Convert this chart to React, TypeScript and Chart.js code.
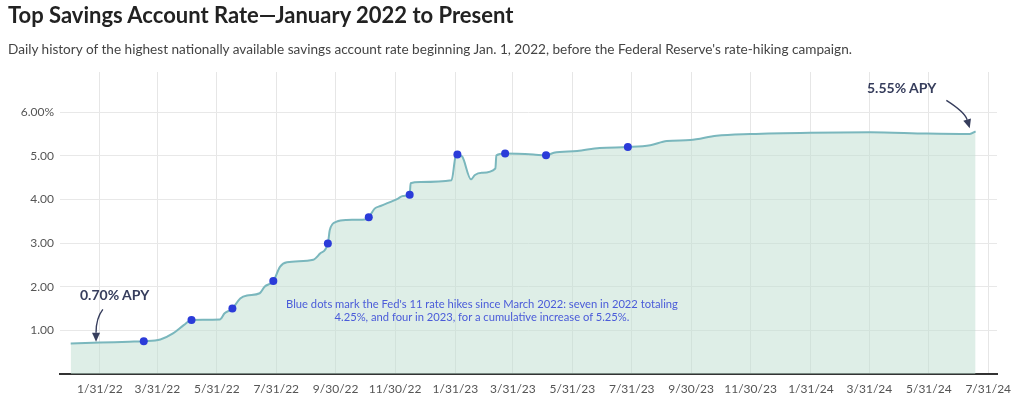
import React, { useEffect, useRef } from "react";
import { Chart, registerables } from "chart.js";

Chart.register(...registerables);

// ---- Data ----
const rateDates = [
  "2022-01-01", "2022-01-31", "2022-03-02", "2022-03-17", "2022-04-03", "2022-04-16",
  "2022-04-27", "2022-05-05", "2022-06-03", "2022-06-08", "2022-06-16", "2022-06-24",
  "2022-07-01", "2022-07-14", "2022-07-19", "2022-07-28", "2022-08-04", "2022-08-11",
  "2022-09-07", "2022-09-14", "2022-09-22", "2022-09-24", "2022-10-01", "2022-10-11",
  "2022-10-30", "2022-11-03", "2022-11-09", "2022-11-15", "2022-12-03", "2022-12-08",
  "2022-12-15", "2022-12-16", "2022-12-26", "2023-01-27", "2023-01-31", "2023-02-02",
  "2023-02-07", "2023-02-16", "2023-02-20", "2023-02-27", "2023-03-13", "2023-03-14",
  "2023-03-23", "2023-04-21", "2023-05-04", "2023-05-12", "2023-06-05", "2023-06-28",
  "2023-07-27", "2023-08-19", "2023-09-05", "2023-09-29", "2023-10-26", "2023-11-30",
  "2024-01-30", "2024-04-01", "2024-05-29", "2024-07-12", "2024-07-18",
];
const rateValues = [
  0.70, 0.72, 0.74, 0.75, 0.79, 0.93,
  1.12, 1.24, 1.25, 1.39, 1.50, 1.73,
  1.80, 1.85, 2.00, 2.13, 2.46, 2.56,
  2.62, 2.76, 2.99, 3.30, 3.49, 3.53,
  3.54, 3.59, 3.79, 3.85, 4.02, 4.08,
  4.11, 4.37, 4.40, 4.44, 4.98, 5.03,
  4.98, 4.46, 4.56, 4.61, 4.71, 5.01,
  5.05, 5.03, 5.01, 5.07, 5.11, 5.18,
  5.20, 5.24, 5.34, 5.36, 5.46, 5.50,
  5.53, 5.54, 5.51, 5.50, 5.56,
];
const hikeDates = [
  "2022-03-17", "2022-05-05", "2022-06-16", "2022-07-28", "2022-09-22", "2022-11-03",
  "2022-12-15", "2023-02-02", "2023-03-23", "2023-05-04", "2023-07-27",
];
const hikeValues = [0.75, 1.24, 1.50, 2.13, 2.99, 3.59, 4.11, 5.03, 5.05, 5.01, 5.20];

const xTickLabels = [
  "1/31/22", "3/31/22", "5/31/22", "7/31/22", "9/30/22", "11/30/22",
  "1/31/23", "3/31/23", "5/31/23", "7/31/23", "9/30/23", "11/30/23",
  "1/31/24", "3/31/24", "5/31/24", "7/31/24",
];
const yTickValues = [1, 2, 3, 4, 5, 6];
const xRange = ["2021-12-21", "2024-08-09"];
const yRange = [0, 6.92];

// annotation arrows: [start, control, tip] as [date, value]
const startArrow: [string, number][] = [["2022-02-03", 1.48], ["2022-01-27", 1.28], ["2022-01-27", 0.74]];
const endArrow: [string, number][] = [["2024-06-18", 6.27], ["2024-07-07", 6.0], ["2024-07-12", 5.63]];

const TITLE = "Top Savings Account Rate\u2014January 2022 to Present";
const SUBTITLE =
  "Daily history of the highest nationally available savings account rate beginning Jan. 1, 2022, before the Federal Reserve's rate-hiking campaign.";
const START_LABEL = "0.70% APY";
const END_LABEL = "5.55% APY";
const NOTE_1 = "Blue dots mark the Fed's 11 rate hikes since March 2022: seven in 2022 totaling";
const NOTE_2 = "4.25%, and four in 2023, for a cumulative increase of 5.25%.";

// ---- helpers ----
const EPOCH = Date.UTC(2022, 0, 1);
const isoToDay = (iso: string) => {
  const [y, m, d] = iso.split("-").map(Number);
  return (Date.UTC(y, m - 1, d) - EPOCH) / 86400000;
};
const labelToDay = (s: string) => {
  const [m, d, y] = s.split("/").map(Number);
  return (Date.UTC(2000 + y, m - 1, d) - EPOCH) / 86400000;
};
const tickMap: Record<number, string> = {};
xTickLabels.forEach((l) => (tickMap[labelToDay(l)] = l));

const FONT = "Lato";
const ANNOT_COLOR = "#363d5c";

const arrowPlugin = {
  id: "arrows",
  afterDraw(chart: any) {
    const { ctx } = chart;
    const xs = chart.scales.x;
    const ys = chart.scales.y;
    const drawArrow = (pts: [string, number][]) => {
      const p = pts.map(([d, v]) => [xs.getPixelForValue(isoToDay(d)), ys.getPixelForValue(v)]);
      const [s, c, t] = p;
      const ang = Math.atan2(t[1] - c[1], t[0] - c[0]);
      const headLen = 9;
      const headW = 4;
      const bx = t[0] - Math.cos(ang) * headLen;
      const by = t[1] - Math.sin(ang) * headLen;
      ctx.save();
      ctx.strokeStyle = ANNOT_COLOR;
      ctx.fillStyle = ANNOT_COLOR;
      ctx.lineWidth = 1.4;
      ctx.beginPath();
      ctx.moveTo(s[0], s[1]);
      ctx.quadraticCurveTo(c[0], c[1], bx, by);
      ctx.stroke();
      ctx.beginPath();
      ctx.moveTo(t[0], t[1]);
      ctx.lineTo(bx + Math.sin(ang) * headW, by - Math.cos(ang) * headW);
      ctx.lineTo(bx - Math.sin(ang) * headW, by + Math.cos(ang) * headW);
      ctx.closePath();
      ctx.fill();
      ctx.restore();
    };
    drawArrow(startArrow);
    drawArrow(endArrow);
  },
};

export default function App() {
  const ref = useRef<HTMLCanvasElement>(null);

  useEffect(() => {
    if (!ref.current) return;
    Chart.defaults.font.family = FONT;
    const chart = new Chart(ref.current, {
      type: "line",
      data: {
        datasets: [
          {
            type: "scatter",
            data: hikeDates.map((d, i) => ({ x: isoToDay(d), y: hikeValues[i] })),
            backgroundColor: "#2b3bd9",
            borderWidth: 0,
            pointRadius: 4,
            order: 0,
          } as any,
          {
            data: rateDates.map((d, i) => ({ x: isoToDay(d), y: rateValues[i] })),
            borderColor: "#7ab7bd",
            borderWidth: 2,
            backgroundColor: "rgba(190, 222, 207, 0.5)",
            fill: "origin",
            pointRadius: 0,
            cubicInterpolationMode: "monotone",
            order: 1,
          },
        ],
      },
      options: {
        responsive: false,
        animation: false,
        layout: { padding: { top: 72, right: 27, left: 0, bottom: 0 } },
        plugins: { legend: { display: false }, tooltip: { enabled: false } },
        scales: {
          x: {
            type: "linear",
            min: isoToDay(xRange[0]),
            max: isoToDay(xRange[1]),
            afterBuildTicks: (scale: any) => {
              scale.ticks = xTickLabels.map((l) => ({ value: labelToDay(l) }));
            },
            afterFit: (scale: any) => {
              scale.height = 33;
            },
            ticks: {
              autoSkip: false,
              maxRotation: 0,
              padding: 8,
              color: "#555",
              font: { size: 12 },
              callback: (v: any) => tickMap[v as number] ?? "",
            },
            grid: { color: "#e6e6e6", drawTicks: false, lineWidth: 1 },
            border: { display: true, color: "#333", width: 2 },
          },
          y: {
            min: yRange[0],
            max: yRange[1],
            afterBuildTicks: (scale: any) => {
              scale.ticks = yTickValues.map((v) => ({ value: v }));
            },
            afterFit: (scale: any) => {
              scale.width = 60;
            },
            ticks: {
              padding: 6,
              color: "#555",
              font: { size: 12 },
              callback: (v: any) => (v === 6 ? "6.00%" : Number(v).toFixed(2)),
            },
            grid: { color: "#e8e8e8", drawTicks: false, lineWidth: 1 },
            border: { display: false },
          },
        },
      },
      plugins: [arrowPlugin],
    } as any);
    return () => chart.destroy();
  }, []);

  return (
    <div
      style={{
        position: "absolute",
        left: 0,
        top: 0,
        width: 1024,
        height: 407,
        background: "#fff",
        fontFamily: FONT,
        overflow: "hidden",
      }}
    >
      <canvas ref={ref} width={1024} height={407} style={{ position: "absolute", left: 0, top: 0 }} />
      <div
        style={{
          position: "absolute",
          left: 8,
          top: 4,
          fontSize: 22,
          lineHeight: "22px",
          fontWeight: 700,
          color: "#222",
          whiteSpace: "nowrap",
        }}
      >
        {TITLE}
      </div>
      <div
        style={{
          position: "absolute",
          left: 8,
          top: 42,
          fontSize: 13.6,
          lineHeight: "14px",
          color: "#444",
          whiteSpace: "nowrap",
        }}
      >
        {SUBTITLE}
      </div>
      <div
        style={{
          position: "absolute",
          left: 80,
          top: 288,
          fontSize: 14,
          lineHeight: "14px",
          fontWeight: 700,
          color: ANNOT_COLOR,
          whiteSpace: "nowrap",
        }}
      >
        {START_LABEL}
      </div>
      <div
        style={{
          position: "absolute",
          left: 867,
          top: 81,
          fontSize: 14,
          lineHeight: "14px",
          fontWeight: 700,
          color: ANNOT_COLOR,
          whiteSpace: "nowrap",
        }}
      >
        {END_LABEL}
      </div>
      <div
        style={{
          position: "absolute",
          left: 262,
          width: 440,
          top: 297,
          fontSize: 11.2,
          lineHeight: "13px",
          color: "#4a5bd9",
          textAlign: "center",
          whiteSpace: "nowrap",
        }}
      >
        {NOTE_1}
        <br />
        {NOTE_2}
      </div>
    </div>
  );
}
